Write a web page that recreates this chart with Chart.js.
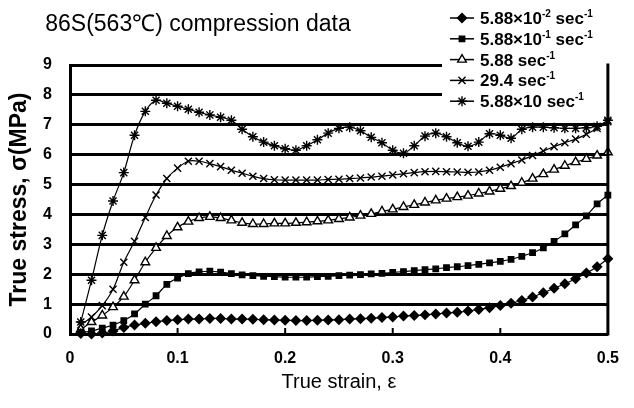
<!DOCTYPE html>
<html>
<head>
<meta charset="utf-8">
<title>86S(563℃) compression data</title>
<script src="https://cdn.jsdelivr.net/npm/chart.js@4.4.1/dist/chart.umd.min.js"></script>
<style>
  html, body { margin: 0; padding: 0; background: #fff; }
  #wrap { width: 634px; height: 408px; position: relative; }
</style>
</head>
<body>
<div id="wrap"><canvas id="chart"></canvas></div>
<script>
const FONT = "'Liberation Sans', Arial, sans-serif";
const chartTitle = "86S(563℃) compression data";

// true strain (x) shared by all strain rates
const strain = [0.01, 0.02, 0.03, 0.04, 0.05, 0.06, 0.07, 0.08, 0.09, 0.10,
                0.11, 0.12, 0.13, 0.14, 0.15, 0.16, 0.17, 0.18, 0.19, 0.20,
                0.21, 0.22, 0.23, 0.24, 0.25, 0.26, 0.27, 0.28, 0.29, 0.30,
                0.31, 0.32, 0.33, 0.34, 0.35, 0.36, 0.37, 0.38, 0.39, 0.40,
                0.41, 0.42, 0.43, 0.44, 0.45, 0.46, 0.47, 0.48, 0.49, 0.50];

// true stress (MPa) per strain rate
const stressRate1 = [0.02, 0.0, 0.03, 0.1, 0.22, 0.3, 0.36, 0.41, 0.45, 0.48,
                     0.5, 0.5, 0.52, 0.52, 0.5, 0.5, 0.49, 0.48, 0.47, 0.46,
                     0.45, 0.45, 0.46, 0.47, 0.48, 0.5, 0.51, 0.53, 0.55, 0.57,
                     0.6, 0.62, 0.64, 0.67, 0.7, 0.73, 0.77, 0.82, 0.88, 0.95,
                     1.03, 1.12, 1.24, 1.38, 1.53, 1.68, 1.85, 2.04, 2.25, 2.52];
const stressRate2 = [0.05, 0.1, 0.2, 0.3, 0.45, 0.67, 1.0, 1.28, 1.66, 1.87,
                     2.02, 2.08, 2.1, 2.07, 2.02, 1.98, 1.95, 1.93, 1.92, 1.9,
                     1.9, 1.9, 1.92, 1.93, 1.95, 1.97, 1.99, 2.01, 2.03, 2.06,
                     2.09, 2.12, 2.15, 2.18, 2.22, 2.25, 2.29, 2.33, 2.38, 2.43,
                     2.5, 2.6, 2.72, 2.88, 3.1, 3.35, 3.65, 3.95, 4.35, 4.65];
const stressRate3 = [0.15, 0.4, 0.62, 0.9, 1.25, 1.8, 2.4, 2.88, 3.28, 3.57,
                     3.76, 3.88, 3.92, 3.88, 3.8, 3.72, 3.68, 3.68, 3.7, 3.7,
                     3.72, 3.74, 3.77, 3.8, 3.85, 3.9, 3.96, 4.02, 4.1, 4.17,
                     4.25, 4.32, 4.4, 4.47, 4.53, 4.58, 4.63, 4.7, 4.77, 4.86,
                     4.95, 5.06, 5.2, 5.35, 5.5, 5.63, 5.75, 5.86, 5.97, 6.08];
const stressRate4 = [0.3, 0.57, 0.95, 1.5, 2.4, 3.1, 3.9, 4.65, 5.2, 5.55,
                     5.78, 5.78, 5.7, 5.6, 5.48, 5.38, 5.28, 5.2, 5.16, 5.15,
                     5.15, 5.15, 5.15, 5.17, 5.18, 5.2, 5.22, 5.25, 5.28, 5.32,
                     5.36, 5.4, 5.43, 5.44, 5.43, 5.42, 5.41, 5.42, 5.48, 5.58,
                     5.7, 5.82, 5.97, 6.12, 6.27, 6.4, 6.52, 6.68, 6.88, 7.1];
const stressRate5 = [0.4, 1.8, 3.3, 4.45, 5.4, 6.65, 7.45, 7.82, 7.72, 7.62,
                     7.52, 7.42, 7.33, 7.25, 7.15, 6.85, 6.6, 6.42, 6.3, 6.2,
                     6.15, 6.3, 6.5, 6.72, 6.88, 6.92, 6.8, 6.58, 6.4, 6.15,
                     6.05, 6.3, 6.62, 6.72, 6.6, 6.4, 6.28, 6.42, 6.7, 6.65,
                     6.55, 6.85, 6.92, 6.92, 6.9, 6.88, 6.88, 6.9, 6.95, 7.15];

const xTicks = [0, 0.1, 0.2, 0.3, 0.4, 0.5];
const yTicks = [0, 1, 2, 3, 4, 5, 6, 7, 8, 9];

// legend text pieces: [text, isSuperscript]
const rateLabels = [
  [["5.88×10", 0], ["-2", 1], [" sec", 0], ["-1", 1]],
  [["5.88×10", 0], ["-1", 1], [" sec", 0], ["-1", 1]],
  [["5.88 sec", 0], ["-1", 1]],
  [["29.4 sec", 0], ["-1", 1]],
  [["5.88×10 sec", 0], ["-1", 1]]
];
const series = [stressRate1, stressRate2, stressRate3, stressRate4, stressRate5];
const markers = [
  { style: "rectRot",  radius: 4.5, fill: "#000" },
  { style: "rect",     radius: 3.8, fill: "#000" },
  { style: "triangle", radius: 5,   fill: "#fff" },
  { style: "crossRot", radius: 5,   fill: "#000" },
  { style: "star",     radius: 5,   fill: "#000" }
];

const datasets = series.map((vals, i) => ({
  label: rateLabels[i].map(p => p[0]).join(""),
  data: strain.map((s, k) => ({ x: s, y: vals[k] })),
  borderColor: "#000",
  borderWidth: 1.2,
  tension: 0.35,
  pointStyle: markers[i].style,
  pointRadius: markers[i].radius,
  pointBackgroundColor: markers[i].fill,
  pointBorderColor: "#000",
  pointBorderWidth: 1.4,
  clip: 8
}));

// title, legend box, inner x ticks, right frame
const decor = {
  id: "decor",
  beforeDatasetsDraw(chart) {
    const { ctx, chartArea: a, scales: { x } } = chart;
    ctx.save();
    ctx.strokeStyle = "#000";
    ctx.lineWidth = 2;
    xTicks.slice(1, -1).forEach(v => {
      const px = x.getPixelForValue(v);
      ctx.beginPath();
      ctx.moveTo(px, a.bottom);
      ctx.lineTo(px, a.bottom - 6);
      ctx.stroke();
    });
    ctx.restore();
  },
  afterDraw(chart) {
    const { ctx, chartArea: a } = chart;
    ctx.save();
    ctx.fillStyle = "#000";
    ctx.font = `23px ${FONT}`;
    ctx.textAlign = "center";
    ctx.textBaseline = "middle";
    ctx.fillText(chartTitle, 198, 25);

    ctx.fillStyle = "#fff";
    ctx.fillRect(442, 0, 171, 116);
    chart.data.datasets.forEach((ds, i) => {
      const y = 18 + i * 20.8;
      ctx.strokeStyle = "#000";
      ctx.lineWidth = 1.5;
      ctx.beginPath();
      ctx.moveTo(450, y);
      ctx.lineTo(474, y);
      ctx.stroke();
      ctx.lineWidth = 1.4;
      ctx.fillStyle = ds.pointBackgroundColor;
      Chart.helpers.drawPoint(ctx, {
        pointStyle: ds.pointStyle, radius: ds.pointRadius, rotation: 0, borderWidth: 1.4
      }, 462, y);
      let tx = 480;
      ctx.fillStyle = "#000";
      ctx.textAlign = "left";
      ctx.textBaseline = "alphabetic";
      rateLabels[i].forEach(([t, sup]) => {
        ctx.font = sup ? `bold 10px ${FONT}` : `bold 17px ${FONT}`;
        ctx.fillText(t, tx, sup ? y - 1 : y + 6);
        tx += ctx.measureText(t).width;
      });
    });

    ctx.strokeStyle = "#000";
    ctx.lineWidth = 3;
    ctx.beginPath();
    ctx.moveTo(a.right, a.top - 1.5);
    ctx.lineTo(a.right, a.bottom + 1.5);
    ctx.stroke();
    ctx.restore();
  }
};

new Chart(document.getElementById("chart"), {
  type: "line",
  data: { datasets },
  plugins: [decor],
  options: {
    responsive: true,
    maintainAspectRatio: false,
    devicePixelRatio: 1,
    animation: false,
    layout: { padding: { top: 65, right: 14, left: 0, bottom: 0 } },
    plugins: {
      legend: { display: false },
      title: { display: false },
      tooltip: { enabled: false }
    },
    scales: {
      x: {
        type: "linear",
        min: 0,
        max: 0.5,
        afterFit(scale) { scale.height = 74; },
        afterBuildTicks(scale) { scale.ticks = xTicks.map(v => ({ value: v })); },
        grid: { display: false, drawTicks: false },
        border: { display: true, color: "#000", width: 3 },
        ticks: { color: "#000", padding: 15, font: { family: FONT, size: 16, weight: "bold" } },
        title: {
          display: true, text: "True strain, ε", color: "#000",
          font: { family: FONT, size: 20 }, padding: { top: 0, bottom: 14 }
        }
      },
      y: {
        min: 0,
        max: 9,
        afterFit(scale) { scale.width = 70; },
        afterBuildTicks(scale) { scale.ticks = yTicks.map(v => ({ value: v })); },
        grid: { color: "#000", lineWidth: 3, drawTicks: false },
        border: { display: true, color: "#000", width: 3 },
        ticks: { color: "#000", padding: 18, font: { family: FONT, size: 16, weight: "bold" } },
        title: {
          display: true, text: "True stress, σ(MPa)", color: "#000",
          font: { family: FONT, size: 23, weight: "bold" }, padding: { top: 6, bottom: 0 }
        }
      }
    }
  }
});
</script>
</body>
</html>
